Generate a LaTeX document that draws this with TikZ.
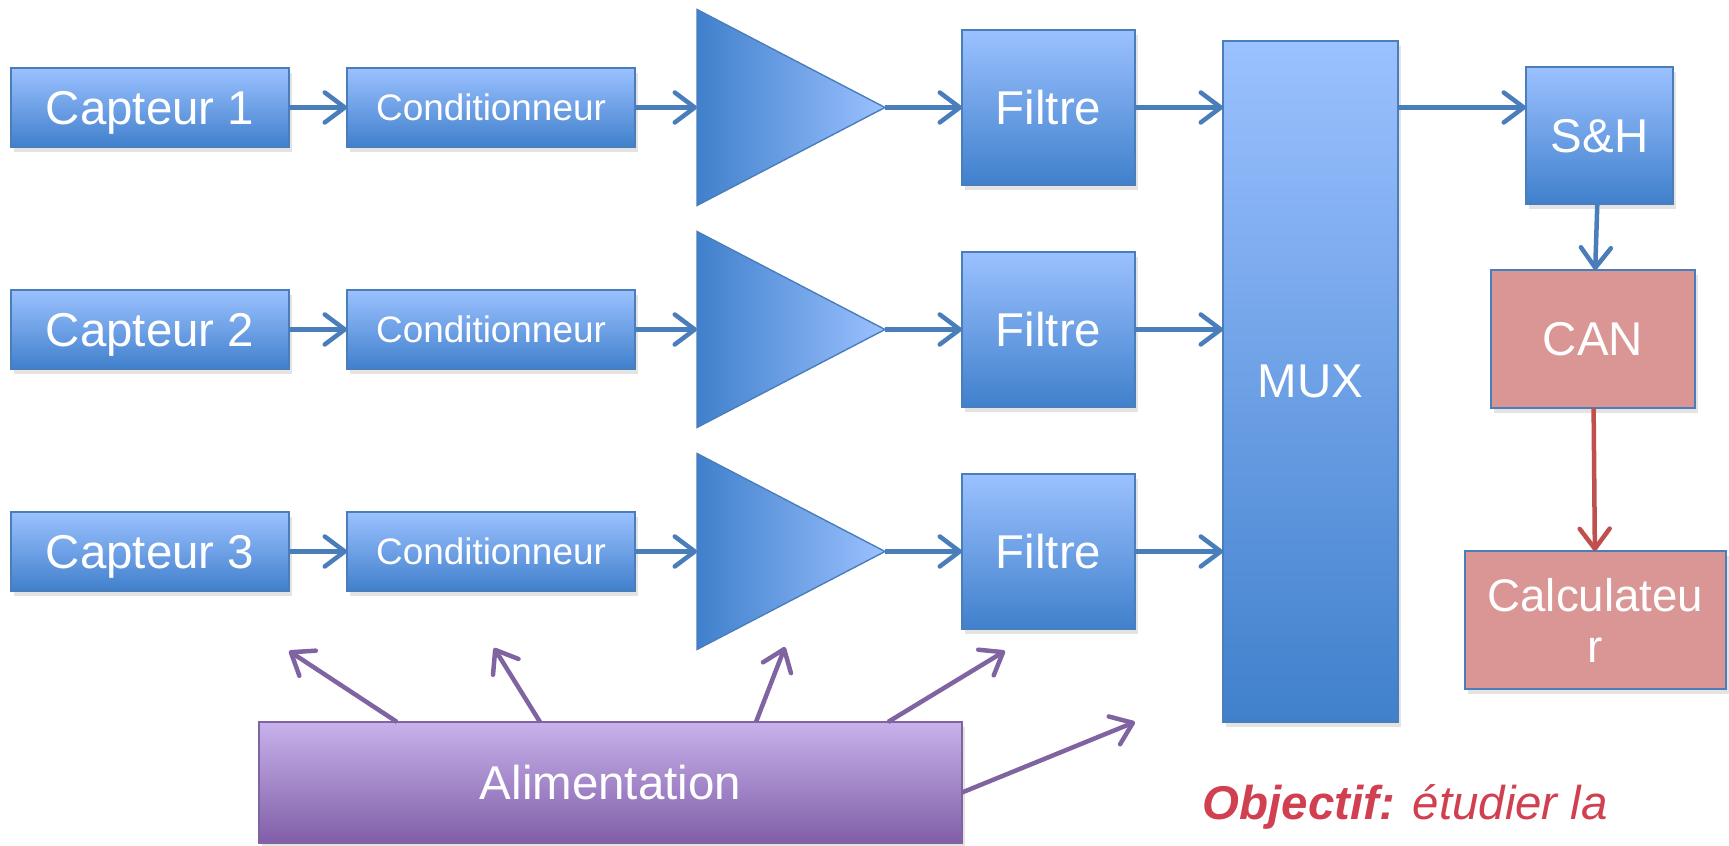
\documentclass[tikz,border=0pt]{standalone}
\usepackage{fontspec}
\setmainfont{Liberation Sans}
\usetikzlibrary{positioning, shapes.geometric, arrows.meta, shadows, calc}
\definecolor{boxlight}{RGB}{155,193,255}
\definecolor{boxdark}{RGB}{64,128,204}
\definecolor{boxedge}{RGB}{74,126,187}
\definecolor{canfill}{RGB}{217,150,148}
\definecolor{canarrow}{RGB}{192,80,77}
\definecolor{alimlight}{RGB}{200,178,235}
\definecolor{alimdark}{RGB}{128,94,168}
\definecolor{alimedge}{RGB}{128,100,162}
\definecolor{objred}{RGB}{208,64,80}
\tikzset{
	ombre/.style={drop shadow={opacity=0.22, shadow xshift=0.3mm, shadow yshift=-0.5mm}},
	bloc/.style={draw=boxedge, line width=0.4pt, top color=boxlight, bottom color=boxdark, text=white,
		font=\fontsize{13.5}{16}\selectfont, inner sep=0pt, outer sep=0pt, text depth=0pt, ombre},
	blocrouge/.style={bloc, fill=canfill, top color=canfill, bottom color=canfill},
	ampli/.style={isosceles triangle, isosceles triangle stretches, draw=boxedge, line width=0.4pt,
		left color=boxdark, right color=boxlight, minimum width=19.6mm, minimum height=18.8mm,
		inner sep=0pt, outer sep=0pt, anchor=west},
	fleche/.style={draw=boxedge, line width=0.45mm, -{Straight Barb[length=2mm,width=3mm,round]}},
	flechealim/.style={fleche, draw=alimedge}
}
\begin{document}
\begin{tikzpicture}[x=0.1mm, y=-0.1mm]
	\useasboundingbox (0,0) rectangle (1729,846);
	\foreach \i/\y in {1/107.5, 2/329.5, 3/551.5} {
		\node[bloc, minimum width=27.8mm, minimum height=7.9mm] (cap\i) at (150,\y) {Capteur \i};
		\node[bloc, minimum width=28.8mm, minimum height=7.9mm, font=\fontsize{10.5}{12}\selectfont] (cond\i) at (491,\y) {Conditionneur};
		\node[ampli] (amp\i) at (697,\y) {};
		\node[bloc, minimum width=17.3mm, minimum height=15.5mm] (filt\i) at (1048.5,\y) {Filtre};
	}
	\node[bloc, minimum width=17.5mm, minimum height=68.1mm] (mux) at (1310.5,381.5) {MUX};
	\node[bloc, minimum width=14.7mm, minimum height=13.7mm] (sh) at (1599.5,135.5) {S\&H};
	\node[blocrouge, minimum width=20.4mm, minimum height=13.8mm] (can) at (1593,339) {CAN};
	\node[blocrouge, minimum width=26.1mm, minimum height=13.8mm, align=center,
		font=\fontsize{13}{14.5}\selectfont] (calc) at (1595.5,620) {Calculateu\\r};
	\node[bloc, draw=alimedge, top color=alimlight, bottom color=alimdark,
		minimum width=70.3mm, minimum height=12.1mm] (alim) at (610.5,782.5) {Alimentation};
	\node[anchor=base west, text=objred, font=\fontsize{13.5}{16}\selectfont, inner sep=0pt] (obj) at (1202,820)
		{\textbf{\textit{Objectif:}} \textit{étudier la}};

	\foreach \i in {1,2,3} {
		\draw[fleche] (cap\i) -- (cond\i);
		\draw[fleche] (cond\i) -- (amp\i.west);
		\draw[fleche] (amp\i.apex) -- (filt\i);
		\draw[fleche] (filt\i) -- (filt\i -| mux.west);
	}
	\draw[fleche] (filt1 -| mux.east) -- (filt1 -| sh.west);
	\draw[fleche] (sh) -- (can);
	\draw[fleche, draw=canarrow] (can) -- (calc);

	\coordinate (a1) at (289,651);
	\coordinate (a2) at (494,648);
	\coordinate (a3) at (785,647);
	\coordinate (a4) at (1005,651);
	\coordinate (a5) at (1135,722);
	\draw[flechealim] ($(alim.north west)+(138,0)$) -- (a1);
	\draw[flechealim] ($(alim.north west)+(281,0)$) -- (a2);
	\draw[flechealim] ($(alim.north west)+(497,0)$) -- (a3);
	\draw[flechealim] ($(alim.north west)+(629,0)$) -- (a4);
	\draw[flechealim] ($(alim.east)+(0,10)$) -- (a5);
\end{tikzpicture}
\end{document}
